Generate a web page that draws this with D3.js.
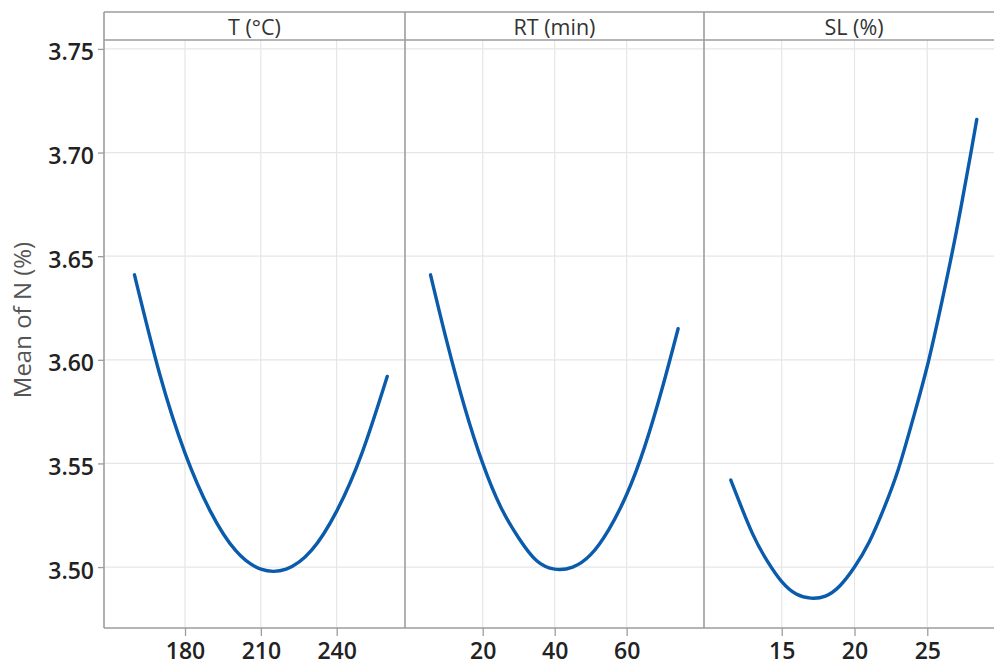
<!DOCTYPE html>
<html>
<head>
<meta charset="utf-8">
<script src="https://cdn.jsdelivr.net/npm/d3@7"></script>
<style>
  html, body { margin: 0; padding: 0; background: #fff; }
  svg { display: block; }
  text { font-family: "Open Sans", "Noto Sans", sans-serif; }
</style>
</head>
<body>
<svg id="chart" width="994" height="666"></svg>
<script>
// ---- data ----
const panelTitles = ["T (°C)", "RT (min)", "SL (%)"];
const yTicks = [3.50, 3.55, 3.60, 3.65, 3.70, 3.75];
const tTicks = [180, 210, 240];
const rtTicks = [20, 40, 60];
const slTicks = [15, 20, 25];

const tX = [160, 170, 180, 190, 200, 210, 220, 230, 240, 250, 260];
const tY = [3.641, 3.593, 3.555, 3.527, 3.508, 3.499, 3.499, 3.508, 3.527, 3.555, 3.592];

const rtX = [5.5, 10, 15, 20, 25, 30, 35, 40, 45, 50, 55, 60, 65, 70, 74.3];
const rtY = [3.641, 3.609, 3.577, 3.550, 3.529, 3.514, 3.503, 3.499, 3.500, 3.506, 3.518, 3.535, 3.558, 3.587, 3.615];

const slX = [11.5, 12, 13, 14, 15, 16, 17, 18, 19, 20, 21, 22, 23, 24, 25, 26, 27, 28, 28.4];
const slY = [3.542, 3.533, 3.516, 3.503, 3.493, 3.487, 3.485, 3.486, 3.491, 3.500, 3.512, 3.528, 3.547, 3.571, 3.597, 3.628, 3.662, 3.700, 3.716];

(function () {
// ---- layout ----
const svg = d3.select("#chart");
const frameTop = 12, stripBottom = 40, plotBottom = 628;
const panelEdges = [104, 405, 704, 1004];
const gridColor = "#e6e6e6", frameColor = "#9d9d9d", lineColor = "#0a5bab";

const y = d3.scaleLinear().domain([3.4706, 3.7543]).range([plotBottom, stripBottom]);

const panels = [
  { title: panelTitles[0], xs: tX, ys: tY, ticks: tTicks, domain: [147.95, 267.03] },
  { title: panelTitles[1], xs: rtX, ys: rtY, ticks: rtTicks, domain: [-1.6, 81.5] },
  { title: panelTitles[2], xs: slX, ys: slY, ticks: slTicks, domain: [9.66, 30.27] }
];

// horizontal gridlines across all panels
svg.append("g").selectAll("line").data(yTicks).join("line")
  .attr("x1", panelEdges[0]).attr("x2", 994)
  .attr("y1", d => y(d)).attr("y2", d => y(d))
  .attr("stroke", gridColor).attr("stroke-width", 1.2);

panels.forEach((p, i) => {
  const x = d3.scaleLinear().domain(p.domain).range([panelEdges[i], panelEdges[i + 1]]);
  // vertical gridlines
  svg.append("g").selectAll("line").data(p.ticks).join("line")
    .attr("x1", d => x(d)).attr("x2", d => x(d))
    .attr("y1", stripBottom).attr("y2", plotBottom)
    .attr("stroke", gridColor).attr("stroke-width", 1.2);
  // bottom axis
  const ax = d3.axisBottom(x).tickValues(p.ticks).tickSize(8).tickPadding(10)
    .tickFormat(d3.format("d"));
  const g = svg.append("g").attr("transform", `translate(0,${plotBottom})`).call(ax);
  g.select(".domain").remove();
  g.selectAll(".tick line").attr("stroke", frameColor).attr("stroke-width", 1.3);
  g.selectAll(".tick text").attr("font-size", 23).attr("font-weight", 600).attr("fill", "#222")
    .attr("dy", "0").attr("y", 31);
  // panel title
  svg.append("text")
    .attr("x", (panelEdges[i] + panelEdges[i + 1]) / 2)
    .attr("y", 35)
    .attr("text-anchor", "middle")
    .attr("font-size", 21.5)
    .attr("fill", "#333")
    .text(p.title);
  // curve
  const pts = p.xs.map((v, k) => [v, p.ys[k]]);
  svg.append("path")
    .datum(pts)
    .attr("fill", "none")
    .attr("stroke", lineColor)
    .attr("stroke-width", 3.4)
    .attr("stroke-linecap", "round")
    .attr("d", d3.line().x(d => x(d[0])).y(d => y(d[1])).curve(d3.curveNatural));
});

// left axis
const ay = d3.axisLeft(y).tickValues(yTicks).tickSize(6).tickPadding(4).tickFormat(d3.format(".2f"));
const gy = svg.append("g").attr("transform", `translate(${panelEdges[0]},0)`).call(ay);
gy.select(".domain").remove();
gy.selectAll(".tick line").attr("stroke", frameColor).attr("stroke-width", 1.3);
gy.selectAll(".tick text").attr("font-size", 23).attr("font-weight", 600).attr("fill", "#222").attr("dy", "0").attr("y", 11);

// frame lines
const frame = svg.append("g").attr("stroke", frameColor).attr("stroke-width", 1.6).attr("fill", "none");
frame.append("line").attr("x1", panelEdges[0]).attr("x2", 994).attr("y1", frameTop).attr("y2", frameTop);
frame.append("line").attr("x1", panelEdges[0]).attr("x2", 994).attr("y1", stripBottom).attr("y2", stripBottom);
frame.append("line").attr("x1", panelEdges[0]).attr("x2", 994).attr("y1", plotBottom).attr("y2", plotBottom);
panelEdges.slice(0, 3).forEach(px => {
  frame.append("line").attr("x1", px).attr("x2", px).attr("y1", frameTop).attr("y2", plotBottom);
});

// y axis title
svg.append("text")
  .attr("transform", `translate(31,320) rotate(-90)`)
  .attr("text-anchor", "middle")
  .attr("font-size", 24)
  .attr("fill", "#555")
  .text("Mean of N (%)");
})();
</script>
</body>
</html>
